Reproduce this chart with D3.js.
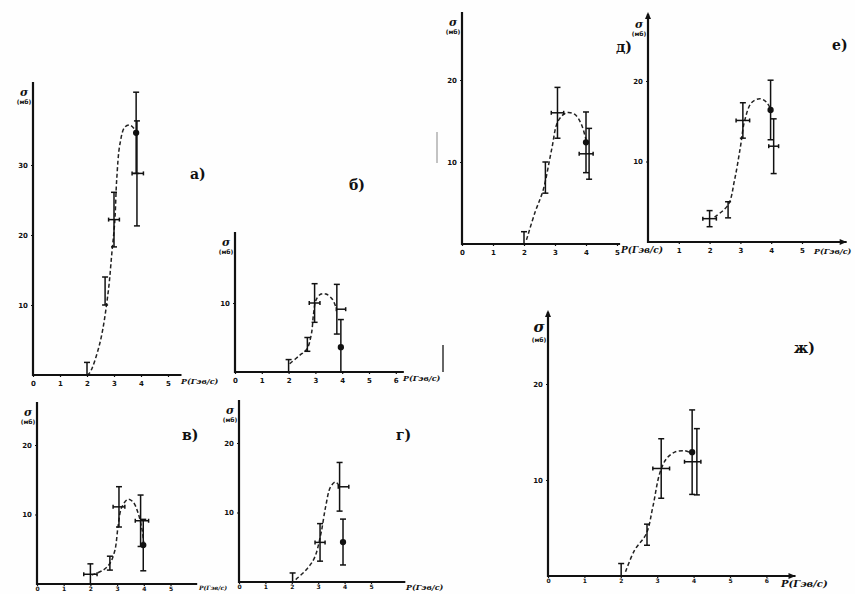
<!DOCTYPE html>
<html>
<head>
<meta charset="utf-8">
<script src="https://cdn.jsdelivr.net/npm/d3@7"></script>
<style>
  body { margin: 0; background: #fff; }
  svg { display: block; }
  .tick text { font-family: "DejaVu Sans", sans-serif; font-size: 7px; font-weight: bold; fill: #111; }
  .tick line { stroke: #111; stroke-width: 1.2; }
</style>
</head>
<body>
<svg id="chart" width="855" height="594"></svg>
<script>
// panel names
const panelNames = ["а)", "б)", "в)", "г)", "д)", "е)", "ж)"];

// tick labels
const xTicksA = [0, 1, 2, 3, 4, 5];
const xTicksB = [0, 1, 2, 3, 4, 5, 6];
const xTicksE = [1, 2, 3, 4, 5];
const yTicksA = [10, 20, 30];
const yTicksB = [10];
const yTicks = [10, 20];

const xLabel = "P(Гэв/с)";
const yLabel = "σ";
const yUnit = "(мб)";

// points: [P, sigma, dSigma, dP left, dP right, kind]
const pointsA = [
  [2.0, 0.3, 1.5, 0, 0, "bar"],
  [2.67, 12.0, 2.0, 0, 0, "bar"],
  [3.0, 22.2, 3.9, 0.2, 0.2, "cross"],
  [3.82, 34.6, 5.8, 0, 0, "dot"],
  [3.85, 28.8, 7.5, 0.18, 0.24, "cross"]
];
const pointsB = [
  [2.0, 0.5, 1.3, 0, 0, "bar"],
  [2.7, 4.0, 1.0, 0, 0, "bar"],
  [2.97, 10.0, 2.8, 0.2, 0.2, "cross"],
  [3.8, 9.1, 3.6, 0.02, 0.33, "cross"],
  [3.95, 3.6, 4.0, 0, 0, "dot"]
];
const pointsC = [
  [2.0, 1.4, 1.5, 0.25, 0.25, "cross"],
  [2.73, 3.0, 1.0, 0, 0, "bar"],
  [3.07, 11.1, 2.9, 0.22, 0.22, "cross"],
  [3.88, 9.1, 3.7, 0.2, 0.3, "cross"],
  [3.98, 5.6, 3.7, 0, 0, "dot"]
];
const pointsD = [
  [2.03, 0.3, 1.0, 0, 0, "bar"],
  [3.07, 5.7, 2.7, 0.19, 0.19, "cross"],
  [3.81, 13.7, 3.5, 0.05, 0.35, "cross"],
  [3.94, 5.75, 3.3, 0, 0, "dot"]
];
const pointsE = [
  [2.0, 0.3, 1.2, 0, 0, "bar"],
  [2.69, 8.1, 1.9, 0, 0, "bar"],
  [3.08, 16.0, 3.1, 0.2, 0.2, "cross"],
  [4.0, 12.4, 3.7, 0, 0, "dot"],
  [4.1, 11.0, 3.1, 0.32, 0.13, "cross"]
];
const pointsF = [
  [2.0, 2.9, 1.0, 0.22, 0.22, "cross"],
  [2.6, 4.0, 1.0, 0, 0, "bar"],
  [3.08, 15.1, 2.2, 0.22, 0.22, "cross"],
  [3.98, 16.4, 3.7, 0, 0, "dot"],
  [4.08, 11.9, 3.4, 0.16, 0.16, "cross"]
];
const pointsG = [
  [2.01, 0.3, 1.0, 0, 0, "bar"],
  [2.72, 4.3, 1.1, 0, 0, "bar"],
  [3.11, 11.2, 3.1, 0.23, 0.23, "cross"],
  [3.96, 12.9, 4.4, 0, 0, "dot"],
  [4.09, 11.9, 3.45, 0.34, 0.11, "cross"]
];

// dashed guide curves: [P, sigma]
const curveA = [[2.0, 0], [2.1, 0.3], [2.48, 4.6], [2.78, 11.7], [2.92, 17.4], [3.03, 22], [3.1, 27.9], [3.22, 33], [3.4, 35.4], [3.6, 35.7], [3.78, 35]];
const curveB = [[2.04, 1.2], [2.41, 2.4], [2.68, 3.3], [2.85, 5.5], [2.93, 8.4], [3.03, 10.5], [3.21, 11.3], [3.4, 11.3], [3.64, 10.5], [3.78, 9.2]];
const curveC = [[2.05, 1.3], [2.48, 2.0], [2.73, 2.95], [2.92, 4.9], [3.04, 8.4], [3.17, 11], [3.41, 12.2], [3.6, 11.8], [3.78, 10.3], [3.94, 7.7], [4.0, 5.8]];
const curveD = [[2.15, 0.35], [2.53, 1.7], [2.85, 3.4], [3.1, 6.9], [3.28, 10.8], [3.47, 13.7], [3.66, 14.4], [3.78, 13.9]];
const curveE = [[2.08, 0.5], [2.35, 3.8], [2.62, 6.6], [2.89, 11.5], [3.1, 15], [3.37, 16], [3.64, 15.8], [3.85, 14.6], [4.0, 12.7]];
const curveF = [[2.16, 3.1], [2.6, 4.6], [2.81, 7.7], [3.0, 11.8], [3.14, 15.1], [3.36, 17.3], [3.63, 17.8], [3.84, 17.4], [3.97, 16.6]];
const curveG = [[2.13, 0.45], [2.38, 2.7], [2.7, 4.4], [2.88, 7.2], [3.07, 10.7], [3.25, 12.2], [3.48, 12.9], [3.75, 13.05], [3.94, 12.8]];

// layout of each panel on the page (pixels)
const layout = [
  { x0: 33, px: 27, y0: 375, py: 7, top: 82, xEnd: 5.5, tx: 181, ty: 384, fs: 8, lx: 190, ly: 179, xt: xTicksA, yt: yTicksA, pts: pointsA, crv: curveA },
  { x0: 235, px: 26.8, y0: 372, py: 6.9, top: 232, xEnd: 6.3, tx: 403, ty: 381, fs: 8, lx: 349, ly: 190, xt: xTicksB, yt: yTicksB, pts: pointsB, crv: curveB },
  { x0: 37, px: 26.7, y0: 584, py: 6.95, top: 402, xEnd: 6.0, tx: 199, ty: 590, fs: 6, lx: 182, ly: 440, xt: xTicksA, yt: yTicks, pts: pointsC, crv: curveC },
  { x0: 239, px: 26.4, y0: 582, py: 6.95, top: 400, xEnd: 6.3, tx: 406, ty: 590, fs: 8, lx: 396, ly: 440, xt: xTicksA, yt: yTicks, pts: pointsD, crv: curveD },
  { x0: 462, px: 31, y0: 244, py: 8.2, top: 12, xEnd: 5.1, tx: 621, ty: 253, fs: 9, lx: 616, ly: 52, xt: xTicksA, yt: yTicks, pts: pointsE, crv: curveE },
  { x0: 648, px: 30.8, y0: 242, py: 8.05, top: 14, xEnd: 6.45, tx: 814, ty: 254, fs: 8, lx: 832, ly: 50, xt: xTicksE, yt: yTicks, pts: pointsF, crv: curveF, arrow: true },
  { x0: 548, px: 36.4, y0: 576, py: 9.6, top: 312, xEnd: 6.8, tx: 781, ty: 587, fs: 10, lx: 794, ly: 353, xt: xTicksB, yt: yTicks, pts: pointsG, crv: curveG, arrow: true }
];

const svg = d3.select("#chart");
svg.append("rect").attr("width", 855).attr("height", 594).attr("fill", "#fefefe");

layout.forEach((L, i) => {
  const g = svg.append("g");
  const x = d3.scaleLinear().domain([0, 1]).range([L.x0, L.x0 + L.px]);
  const y = d3.scaleLinear().domain([0, 10]).range([L.y0, L.y0 - 10 * L.py]);
  const yTop = y.invert(L.top);
  const low = L.y0 > 570;

  // axes
  const xa = g.append("g").attr("transform", `translate(0,${L.y0})`)
    .call(d3.axisBottom(x).tickValues(L.xt).tickFormat(d3.format("d")).tickSize(2).tickPadding(low ? 1 : 4));
  xa.select(".domain").remove();
  if (low) xa.selectAll(".tick text").style("font-size", "6px");
  const ya = g.append("g").attr("transform", `translate(${L.x0},0)`)
    .call(d3.axisLeft(y).tickValues(L.yt).tickFormat(d3.format("d")).tickSize(2).tickPadding(3));
  ya.select(".domain").remove();

  g.append("line")
    .attr("x1", x(0)).attr("x2", x(L.xEnd))
    .attr("y1", y(0)).attr("y2", y(0))
    .attr("stroke", "#111").attr("stroke-width", 2);
  g.append("line")
    .attr("x1", x(0)).attr("x2", x(0))
    .attr("y1", y(0) + 1).attr("y2", y(yTop))
    .attr("stroke", "#111").attr("stroke-width", 2.2);

  if (L.arrow) {
    const ex = x(L.xEnd), ey = y(0);
    g.append("path").attr("d", `M${ex},${ey} l-7,-3 l0,6 Z`).attr("fill", "#111");
    const tx = x(0), ty = y(yTop);
    g.append("path").attr("d", `M${tx},${ty - 2} l-3,7 l6,0 Z`).attr("fill", "#111");
  }

  // axis titles
  g.append("text")
    .attr("x", L.tx).attr("y", L.ty)
    .attr("font-family", "DejaVu Serif, serif").attr("font-style", "italic")
    .attr("font-size", L.fs).attr("font-weight", "bold")
    .attr("fill", "#111")
    .text(xLabel);
  g.append("text")
    .attr("x", x(0) - 9).attr("y", y(yTop) + (i === 6 ? 20 : 14))
    .attr("text-anchor", "middle")
    .attr("font-family", "DejaVu Serif, serif").attr("font-style", "italic")
    .attr("font-size", i === 6 ? 15 : 11).attr("font-weight", "bold")
    .attr("fill", "#111")
    .text(yLabel);
  g.append("text")
    .attr("x", x(0) - 9).attr("y", y(yTop) + (i === 6 ? 30 : 22))
    .attr("text-anchor", "middle")
    .attr("font-family", "DejaVu Sans, sans-serif")
    .attr("font-size", 6).attr("font-weight", "bold")
    .attr("fill", "#111")
    .text(yUnit);

  // panel letter
  g.append("text")
    .attr("x", L.lx).attr("y", L.ly)
    .attr("font-family", "DejaVu Serif, serif").attr("font-weight", "bold")
    .attr("font-size", 14).attr("fill", "#111")
    .text(panelNames[i]);

  // dashed guide curve
  const line = d3.line()
    .x(d => x(d[0])).y(d => y(d[1]))
    .curve(d3.curveCatmullRom.alpha(0.5));
  g.append("path")
    .datum(L.crv)
    .attr("d", line)
    .attr("fill", "none")
    .attr("stroke", "#222")
    .attr("stroke-width", 1.5)
    .attr("stroke-dasharray", "4,2.5");

  // error bars and markers
  const pg = g.append("g").attr("stroke", "#111").attr("stroke-width", 1.5);
  L.pts.forEach(d => {
    const [p, s, ds, dl, dr, kind] = d;
    const cx = x(p), lo = y(Math.max(0, s - ds)), hi = y(s + ds);
    pg.append("line").attr("x1", cx).attr("x2", cx).attr("y1", lo).attr("y2", hi);
    pg.append("line").attr("x1", cx - 3).attr("x2", cx + 3).attr("y1", hi).attr("y2", hi);
    pg.append("line").attr("x1", cx - 3).attr("x2", cx + 3).attr("y1", lo).attr("y2", lo);
    if (dl > 0 || dr > 0) {
      const cy = y(s);
      const a = x(p - dl), b = x(p + dr);
      pg.append("line").attr("x1", a).attr("x2", b).attr("y1", cy).attr("y2", cy);
      pg.append("line").attr("x1", a).attr("x2", a).attr("y1", cy - 2).attr("y2", cy + 2);
      pg.append("line").attr("x1", b).attr("x2", b).attr("y1", cy - 2).attr("y2", cy + 2);
    }
    if (kind === "dot") {
      pg.append("circle").attr("cx", cx).attr("cy", y(s)).attr("r", 2.4).attr("fill", "#111");
    }
  });
});

// scan marks
svg.append("line").attr("x1", 443).attr("x2", 443).attr("y1", 345).attr("y2", 372)
  .attr("stroke", "#333").attr("stroke-width", 1.5);
svg.append("line").attr("x1", 437).attr("x2", 437).attr("y1", 132).attr("y2", 163)
  .attr("stroke", "#888").attr("stroke-width", 1);
</script>
</body>
</html>
